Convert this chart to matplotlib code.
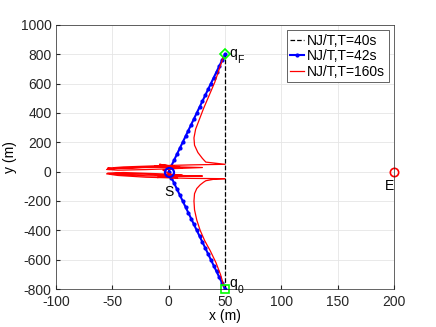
import numpy as np
from matplotlib import pyplot as plt

plt.rcParams['font.family'] = ['Liberation Sans', 'DejaVu Sans']
plt.rcParams['axes.unicode_minus'] = False

## T=40s: straight line q0 -> qF
x40 = [50, 50]
y40 = [-800, 800]

## T=42s: through the station S
x42 = [50, 47.5, 45, 42.5, 40, 37.5, 35, 32.5, 30, 27.5, 25, 22.5, 20, 17.5, 15, 12.5, 10, 7.5, 5, 2.5,
       0,
       2.5, 5, 7.5, 10, 12.5, 15, 17.5, 20, 22.5, 25, 27.5, 30, 32.5, 35, 37.5, 40, 42.5, 45, 47.5, 50]
y42 = [-800, -760, -720, -680, -640, -600, -560, -520, -480, -440, -400, -360, -320, -280, -240, -200, -160, -120, -80, -40,
       0,
       40, 80, 120, 160, 200, 240, 280, 320, 360, 400, 440, 480, 520, 560, 600, 640, 680, 720, 760, 800]

## T=160s: loops around S
x160 = [49, 46, 42, 37, 32, 28, 25, 23, 22.5, 23, 25, 28, 31, 33, 40, 50,
        20, -20, -45, -55, -45, -20, 10, 30, 10, -20, -48, -54, -40, -10, 12,
        -10, 10, -12, 8, -5, 10, -12, 12, -8, 5,
        -20, -48, -55, -45, -20, 10, 30, 10, -20, -50, -54, -40, -10, 20, 50,
        33, 30, 26, 23, 22.5, 24, 27, 31, 36, 41, 45, 48.5]
y160 = [-780, -700, -620, -540, -470, -400, -330, -260, -200, -150, -115, -90, -72, -62, -52, -48,
        -46, -38, -26, -15, -12, -18, -26, -30, -32, -28, -18, -10, -6, -14, -22,
        -40, -30, -20, -45, 10, 30, 40, 25, 50, 35,
        30, 22, 15, 10, 14, 22, 28, 32, 28, 20, 24, 32, 40, 46, 50,
        65, 90, 130, 180, 230, 290, 350, 430, 520, 610, 700, 780]

fig = plt.figure(figsize=(4.36, 3.27), dpi=100)
ax = fig.add_axes([0.128, 0.116, 0.776, 0.808])

ax.plot(x40, y40, 'k--', lw=0.9, label='NJ/T,T=40s')
ax.plot(x42, y42, 'b.-', lw=1.5, ms=4, label='NJ/T,T=42s')
ax.plot(x160, y160, 'r-', lw=0.9, label='NJ/T,T=160s')

ax.plot(50, 800, 'D', mfc='none', mec='#00ff00', ms=5, mew=1.2, clip_on=False)
ax.plot(50, -800, 's', mfc='none', mec='#00ff00', ms=5.5, mew=1.2, clip_on=False)
ax.plot(0, 0, 'o', mfc='none', mec='b', ms=6.5, mew=1.6)
ax.plot(200, 0, 'o', mfc='none', mec='r', ms=6, mew=1.2, clip_on=False)

ax.text(54, 810, 'q', fontsize=10, ha='left', va='center')
ax.text(61, 763, 'F', fontsize=7.5, ha='left', va='center')
ax.text(54, -762, 'q', fontsize=10, ha='left', va='center')
ax.text(61, -809, '0', fontsize=7.5, ha='left', va='center')
ax.text(0, -140, 'S', fontsize=10, ha='center', va='center')
ax.text(196, -100, 'E', fontsize=10, ha='center', va='center')

ax.set_xlim(-100, 200)
ax.set_ylim(-800, 1000)
ax.set_xticks(np.arange(-100, 201, 50))
ax.set_yticks(np.arange(-800, 1001, 200))
ax.set_xlabel('x (m)', fontsize=10, labelpad=0)
ax.set_ylabel('y (m)', fontsize=10, labelpad=3)
ax.tick_params(direction='in', labelsize=10, length=3, color='#262626', labelcolor='#262626')
ax.tick_params(axis='x', pad=4.5)
ax.tick_params(axis='y', pad=3)
ax.grid(True, color='#e5e5e5', lw=0.6)
ax.set_axisbelow(True)
for s in ax.spines.values():
	s.set_color('#262626')
	s.set_linewidth(0.5)

leg = ax.legend(loc='upper right', fontsize=10, handlelength=1.0, handletextpad=0.2,
                borderpad=0.25, labelspacing=0.1, borderaxespad=0.4, fancybox=False,
                framealpha=1)
leg.get_frame().set_edgecolor('#262626')
leg.get_frame().set_linewidth(0.5)

plt.savefig('out.png', dpi=100)
plt.close()
